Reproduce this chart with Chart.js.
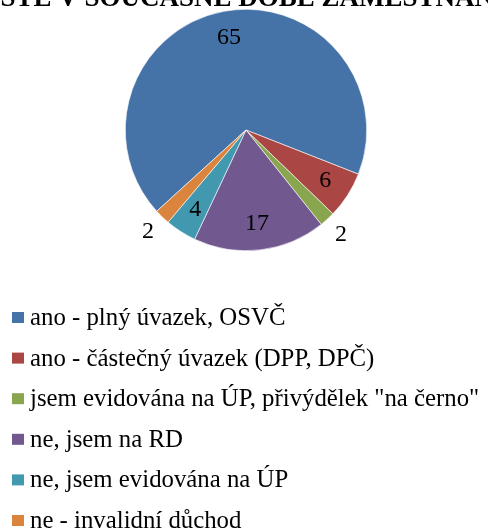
<!DOCTYPE html>
<html>
<head>
<meta charset="utf-8">
<script src="https://cdn.jsdelivr.net/npm/chart.js@4/dist/chart.umd.min.js"></script>
<style>
  html, body { margin: 0; padding: 0; background: #fff; overflow: hidden; }
  #wrap { position: relative; width: 488px; height: 529px; }
</style>
</head>
<body>
<div id="wrap"><canvas id="chart" width="488" height="529"></canvas></div>
<script>
const title = 'JSTE V SOUČASNÉ DOBĚ ZAMĚSTNÁNA?'
const categories = [
  'ano - plný úvazek, OSVČ',
  'ano - částečný úvazek (DPP, DPČ)',
  'jsem evidována na ÚP, přivýdělek "na černo"',
  'ne, jsem na RD',
  'ne, jsem evidována na ÚP',
  'ne - invalidní důchod'
]
const counts = [65, 6, 2, 17, 4, 2]
const colors = ['#4572A7', '#AA4643', '#89A54E', '#71588F', '#4198AF', '#DB843D']

const serif = '"Liberation Serif", "Times New Roman", serif'

// title is cropped at the top of the picture, so draw it by hand
const cutTitle = {
  id: 'cutTitle',
  afterDraw (chart) {
    const ctx = chart.ctx
    ctx.save()
    ctx.font = 'bold 27px ' + serif
    ctx.fillStyle = '#000'
    ctx.textAlign = 'left'
    ctx.textBaseline = 'alphabetic'
    ctx.fillText(title, -13, 6)
    ctx.restore()
  }
}

// value labels, inside big slices, just outside the small ones
const sliceLabels = {
  id: 'sliceLabels',
  afterDatasetsDraw (chart) {
    const ctx = chart.ctx
    const meta = chart.getDatasetMeta(0)
    const total = counts.reduce((a, b) => a + b, 0)
    ctx.save()
    ctx.font = '24px ' + serif
    ctx.fillStyle = '#000'
    ctx.textAlign = 'center'
    ctx.textBaseline = 'middle'
    meta.data.forEach((arc, i) => {
      const mid = (arc.startAngle + arc.endAngle) / 2
      const k = counts[i] / total < 0.03 ? 1.17 : 0.78
      const r = arc.outerRadius * k
      ctx.fillText(String(counts[i]), arc.x + Math.cos(mid) * r, arc.y + Math.sin(mid) * r)
    })
    ctx.restore()
  }
}

// one legend entry per row under the pie
const rowLegend = {
  id: 'rowLegend',
  afterDraw (chart) {
    const ctx = chart.ctx
    ctx.save()
    ctx.font = '24.8px ' + serif
    ctx.textAlign = 'left'
    ctx.textBaseline = 'alphabetic'
    chart.data.labels.forEach((label, i) => {
      const y = 312 + i * 40.6
      ctx.fillStyle = chart.data.datasets[0].backgroundColor[i]
      ctx.fillRect(12, y, 12, 11)
      ctx.fillStyle = '#000'
      ctx.fillText(label, 30, y + 13)
    })
    ctx.restore()
  }
}

new Chart(document.getElementById('chart'), {
  type: 'pie',
  data: {
    labels: categories,
    datasets: [{
      data: counts,
      backgroundColor: colors,
      borderColor: '#ffffff',
      borderWidth: 0.6
    }]
  },
  options: {
    responsive: false,
    animation: false,
    rotation: -132.3,
    layout: { padding: { top: 9, bottom: 278, left: 4, right: 0 } },
    plugins: {
      legend: { display: false },
      title: { display: false },
      tooltip: { enabled: false }
    }
  },
  plugins: [cutTitle, sliceLabels, rowLegend]
})
</script>
</body>
</html>
